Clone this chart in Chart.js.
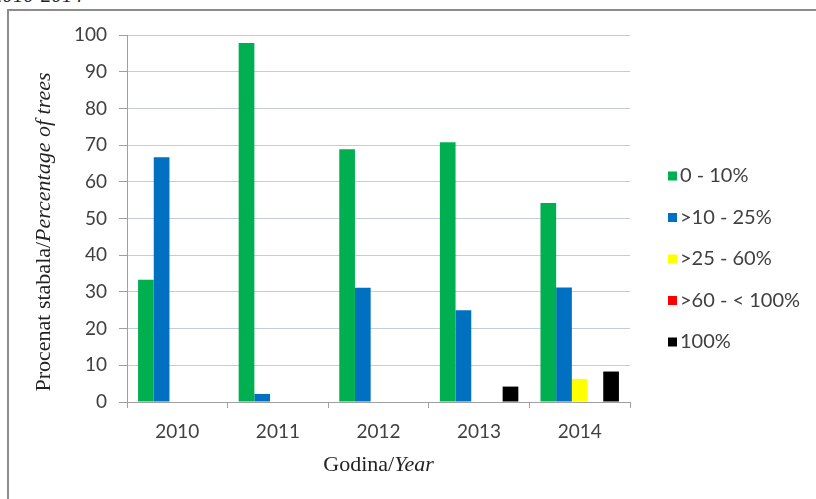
<!DOCTYPE html>
<html>
<head>
<meta charset="utf-8">
<script src="https://cdn.jsdelivr.net/npm/chart.js@4.4.1/dist/chart.umd.min.js"></script>
<style>
html, body { margin: 0; padding: 0; background: #fff; }
#wrap { position: relative; width: 816px; height: 499px; overflow: hidden; }
#frame { position: absolute; left: 7px; top: 9px; right: -10px; bottom: -10px;
  border-left: 2px solid #8c8c8c; border-top: 2px solid #8c8c8c; }
#cap { position: absolute; left: -8px; top: -17px; font: italic 21px "Liberation Serif", serif; color: #222; }
canvas { position: absolute; left: 0; top: 0; }
</style>
</head>
<body>
<div id="wrap">
  <div id="frame"></div>
  <div id="cap">2010-2014</div>
  <canvas id="canvas" width="816" height="499"></canvas>
</div>
<script>
// years on the x axis
var years = ["2010", "2011", "2012", "2013", "2014"];

// damage classes (legend labels)
var classNames = ["0 - 10%", ">10 - 25%", ">25 - 60%", ">60 - < 100%", "100%"];

// percentage of trees per class and year
var class0_10 = [33.3, 97.8, 68.9, 70.8, 54.2];
var class10_25 = [66.7, 2.2, 31.1, 25.0, 31.2];
var class25_60 = [0, 0, 0, 0, 6.3];
var class60_100 = [0, 0, 0, 0, 0];
var class100 = [0, 0, 0, 4.2, 8.3];

var yTicks = [0, 10, 20, 30, 40, 50, 60, 70, 80, 90, 100];

var classColors = ["#00b050", "#0070c0", "#ffff00", "#ff0000", "#000000"];
var series = [class0_10, class10_25, class25_60, class60_100, class100];

var tickFont = { family: "Lato", size: 19 };
var tickColor = "#404040";

// axis titles with the english part in italics, plus the legend on the right
var extrasPlugin = {
	id: "extras",
	afterDraw: function(chart) {
		var ctx = chart.ctx;
		var area = chart.chartArea;
		ctx.save();
		ctx.fillStyle = "#222";
		ctx.textBaseline = "middle";

		function mixed(parts, cx, cy, rotate) {
			ctx.save();
			ctx.translate(cx, cy);
			if (rotate) ctx.rotate(-Math.PI / 2);
			var total = 0;
			parts.forEach(function(p) {
				ctx.font = p[1];
				total += ctx.measureText(p[0]).width;
			});
			var x = -total / 2;
			ctx.textAlign = "left";
			parts.forEach(function(p) {
				ctx.font = p[1];
				ctx.fillText(p[0], x, 0);
				x += ctx.measureText(p[0]).width;
			});
			ctx.restore();
		}

		var reg = '22px "Liberation Serif"';
		var ita = 'italic 22px "Liberation Serif"';
		mixed([["Procenat stabala/", reg], ["Percentage of trees", ita]], 44, 232, true);
		mixed([["Godina/", reg], ["Year", ita]], (area.left + area.right) / 2, 465, false);

		// legend
		ctx.font = '20px Lato';
		ctx.textAlign = "left";
		chart.data.datasets.forEach(function(ds, i) {
			var y = 176 + i * 41.5;
			var x = area.right + 38;
			ctx.fillStyle = ds.backgroundColor;
			ctx.fillRect(x, y - 4.5, 9, 9);
			ctx.fillStyle = tickColor;
			ctx.fillText(ds.label, x + 12, y);
		});
		ctx.restore();
	}
};

var datasets = [];
for (var i = 0; i < series.length; i++) {
	datasets.push({
		label: classNames[i],
		data: series[i],
		backgroundColor: classColors[i],
		borderWidth: 0,
		categoryPercentage: 0.78,
		barPercentage: 1.0
	});
}

var ctx = document.getElementById("canvas").getContext("2d");
window.myBar = new Chart(ctx, {
	type: "bar",
	data: { labels: years, datasets: datasets },
	plugins: [extrasPlugin],
	options: {
		responsive: false,
		animation: false,
		layout: { padding: { top: 35, right: 186, bottom: 57, left: 0 } },
		plugins: {
			legend: { display: false },
			title: { display: false },
			tooltip: { enabled: false }
		},
		scales: {
			x: {
				afterFit: function(s) { s.height = 40; },
				grid: { display: true, drawOnChartArea: false, drawTicks: true, tickLength: 6, color: "#a0a0a0" },
				border: { color: "#a0a0a0" },
				ticks: { font: tickFont, color: tickColor, padding: 12 }
			},
			y: {
				min: 0,
				max: 100,
				afterFit: function(s) { s.width = 127; },
				afterBuildTicks: function(s) { s.ticks = yTicks.map(function(v) { return { value: v }; }); },
				grid: { color: "#c3cbdc", tickColor: "#a0a0a0", tickLength: 8 },
				border: { color: "#a0a0a0" },
				ticks: { font: tickFont, color: tickColor, padding: 12 }
			}
		}
	}
});
</script>
</body>
</html>
